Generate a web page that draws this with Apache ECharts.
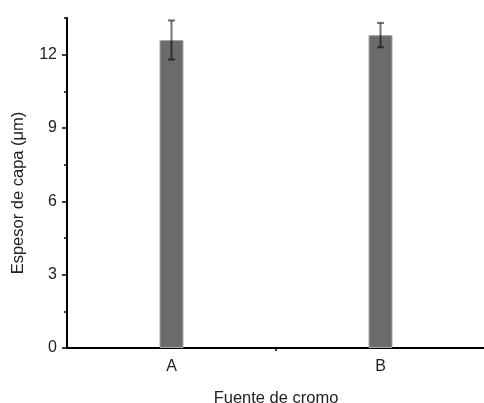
<!DOCTYPE html>
<html>
<head>
<meta charset="utf-8">
<script src="https://cdn.jsdelivr.net/npm/echarts@6/dist/echarts.min.js"></script>
<style>
html,body{margin:0;padding:0;background:#fff;}
#chart{width:484px;height:403px;}
</style>
</head>
<body>
<div id="chart"></div>
<script>
var FONT = "Liberation Sans";
var categories = ["A", "B"];
var thickness = [12.6, 12.8];
var errors = [0.8, 0.5];
var yMajorTicks = [0, 3, 6, 9, 12];
var yMinorTicks = [1.5, 4.5, 7.5, 10.5, 13.5];

var chart = echarts.init(document.getElementById("chart"));

var errData = thickness.map(function(v, i) {
	return [i, v - errors[i], v + errors[i]];
});

var option = {
	backgroundColor: "#fff",
	animation: false,
	grid: { left: 67, top: 18, width: 418, height: 330, outerBoundsMode: "none", containLabel: false },
	xAxis: [
		{
			type: "category",
			data: categories,
			name: "Fuente de cromo",
			nameLocation: "middle",
			nameGap: 42,
			nameTextStyle: { fontFamily: FONT, fontSize: 16.5, color: "#222" },
			axisLine: { lineStyle: { color: "#000", width: 2 } },
			axisTick: { alignWithLabel: true, length: 5, lineStyle: { color: "#000", width: 1.5 } },
			axisLabel: { fontFamily: FONT, fontSize: 16, color: "#222", margin: 11 },
			splitLine: { show: false }
		},
		{
			// only the short tick between the two groups
			type: "value",
			min: 0,
			max: 2,
			position: "bottom",
			axisLine: { show: false },
			axisTick: { show: true, length: 3, customValues: [1], lineStyle: { color: "#000", width: 1.5 } },
			axisLabel: { show: false },
			splitLine: { show: false }
		}
	],
	yAxis: [
		{
			type: "value",
			min: 0,
			max: 13.5,
			name: "Espesor de capa (\u03bcm)",
			nameLocation: "middle",
			nameGap: 40,
			nameTextStyle: { fontFamily: FONT, fontSize: 16.5, color: "#222", padding: [0, 20, 0, 0] },
			axisLine: { show: true, lineStyle: { color: "#000", width: 2 } },
			axisTick: { show: true, length: 5, customValues: yMajorTicks, lineStyle: { color: "#000", width: 1.5 } },
			axisLabel: { fontFamily: FONT, fontSize: 16, color: "#222", margin: 10, customValues: yMajorTicks },
			splitLine: { show: false }
		},
		{
			type: "value",
			min: 0,
			max: 13.5,
			position: "left",
			axisLine: { show: false },
			axisTick: { show: true, length: 3, customValues: yMinorTicks, lineStyle: { color: "#000", width: 1.5 } },
			axisLabel: { show: false },
			splitLine: { show: false }
		}
	],
	series: [
		{
			type: "bar",
			data: thickness,
			barWidth: 24,
			itemStyle: { color: "#6b6b6b", borderColor: "#a8a8a8", borderWidth: 1 }
		},
		{
			type: "custom",
			data: errData,
			z: 5,
			renderItem: function(params, api) {
				var x = api.value(0);
				var lo = api.coord([x, api.value(1)]);
				var hi = api.coord([x, api.value(2)]);
				var cap = 3.5;
				var style = { stroke: "rgba(0,0,0,0.55)", lineWidth: 2 };
				return {
					type: "group",
					children: [
						{ type: "line", shape: { x1: lo[0], y1: lo[1], x2: hi[0], y2: hi[1] }, style: style },
						{ type: "line", shape: { x1: lo[0] - cap, y1: lo[1], x2: lo[0] + cap, y2: lo[1] }, style: style },
						{ type: "line", shape: { x1: hi[0] - cap, y1: hi[1], x2: hi[0] + cap, y2: hi[1] }, style: style }
					]
				};
			}
		}
	]
};
chart.setOption(option);
</script>
</body>
</html>
